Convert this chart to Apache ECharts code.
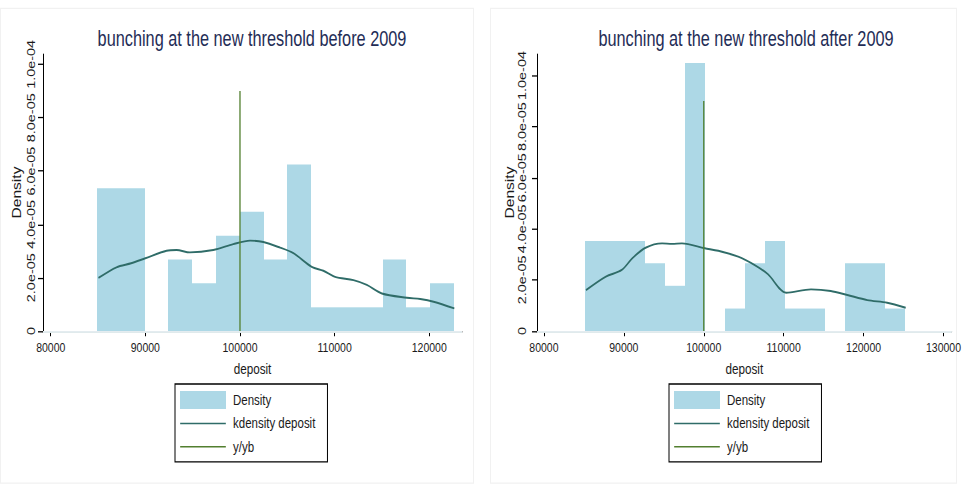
<!DOCTYPE html>
<html>
<head>
<meta charset="utf-8">
<title>bunching at the new threshold</title>
<script src="https://cdn.jsdelivr.net/npm/echarts@6/dist/echarts.min.js"></script>
<style>
  html, body { margin: 0; padding: 0; background: #ffffff; }
  #page { width: 964px; height: 487px; position: relative; }
  /* The graph is laid out on a 964x375 box and shown stretched to 487px tall */
  #chart { position: absolute; left: 0; top: 0; width: 964px; height: 375px;
           transform: scaleY(1.298667); transform-origin: 0 0; }
</style>
</head>
<body>
<div id="page"><div id="chart"></div></div>
<script>
// ---- data -------------------------------------------------------------
// Histogram bins (equal width) and bar densities, before 2009
const beforeBinStart = 84900;
const beforeBinWidth = 2515;
const beforeDensity = [5.36e-5, 5.36e-5, 0, 2.68e-5, 1.79e-5, 3.57e-5, 4.47e-5, 2.68e-5,
                       6.25e-5, 0.89e-5, 0.89e-5, 0.89e-5, 2.68e-5, 0.89e-5, 1.79e-5];
// Kernel density of deposit, before 2009
const beforeKdX = [85045, 86950, 88500, 90000, 92240, 93300, 94700, 97180, 99290, 101060,
                   102470, 104230, 105640, 107580, 108810, 110050, 111990, 113400, 114990,
                   117640, 119050, 120460, 122650];
const beforeKdY = [1.99e-5, 2.39e-5, 2.54e-5, 2.73e-5, 3.01e-5, 3.04e-5, 2.95e-5, 3.04e-5,
                   3.26e-5, 3.39e-5, 3.34e-5, 3.13e-5, 2.92e-5, 2.41e-5, 2.26e-5, 2.03e-5,
                   1.91e-5, 1.73e-5, 1.41e-5, 1.25e-5, 1.20e-5, 1.10e-5, 0.85e-5];

// Histogram bins and bar densities, after 2009
const afterBinStart = 85150;
const afterBinWidth = 2506;
const afterDensity = [3.52e-5, 3.52e-5, 3.52e-5, 2.65e-5, 1.77e-5, 10.49e-5, 0, 0.88e-5,
                      2.65e-5, 3.52e-5, 0.88e-5, 0.88e-5, 0, 2.65e-5, 2.65e-5, 0.88e-5];
// Kernel density of deposit, after 2009
const afterKdX = [85260, 87750, 89740, 91060, 92720, 94780, 96030, 97270, 100130, 101820,
                  104310, 106380, 108040, 110300, 113420, 115900, 117970, 120460, 122950, 125270];
const afterKdY = [1.60e-5, 2.13e-5, 2.39e-5, 2.85e-5, 3.26e-5, 3.43e-5, 3.41e-5, 3.43e-5,
                  3.24e-5, 3.14e-5, 2.91e-5, 2.58e-5, 2.22e-5, 1.50e-5, 1.63e-5, 1.57e-5,
                  1.41e-5, 1.21e-5, 1.11e-5, 0.91e-5];

// Threshold line y/yb
const thresholdX = 100000;
const thresholdTop = 9e-5;

// Axis ticks and labels
const yTickValues = [0, 2e-5, 4e-5, 6e-5, 8e-5, 1e-4];
const yTickLabels = ['0', '2.0e-05', '4.0e-05', '6.0e-05', '8.0e-05', '1.0e-04'];
const beforeXTicks = [80000, 90000, 100000, 110000, 120000];
const afterXTicks = [80000, 90000, 100000, 110000, 120000, 130000];

const titles = ['bunching at the new threshold before 2009', 'bunching at the new threshold after 2009'];
const legendNames = ['Density', 'kdensity deposit', 'y/yb'];

// ---- styling ----------------------------------------------------------
const FONT = "'Liberation Sans', Arial, Helvetica, sans-serif";
const BAR = '#add8e6';
const KD = '#2f6c68';
const YYB = '#527f2f';
const GRID = '#e4edf0';
const TEXT = '#1a1a1a';

const chart = echarts.init(document.getElementById('chart'), null, { renderer: 'svg' });

function histogram(values, start, width, idx) {
  return {
    type: 'custom', name: legendNames[0], xAxisIndex: idx, yAxisIndex: idx, z: 2,
    silent: true,
    itemStyle: { color: BAR },
    encode: { x: [0, 1], y: 2 },
    data: values.map((v, i) => [start + i * width, start + (i + 1) * width, v]),
    renderItem: function (params, api) {
      const top = api.coord([api.value(0), api.value(2)]);
      const base = api.coord([api.value(1), 0]);
      const x0 = Math.round(top[0]);
      const x1 = Math.round(base[0]);
      return {
        type: 'rect',
        shape: { x: x0, y: top[1], width: x1 - x0, height: base[1] - top[1] },
        style: { fill: BAR }
      };
    }
  };
}

function kdensity(xs, ys, idx) {
  return {
    type: 'line', name: legendNames[1], xAxisIndex: idx, yAxisIndex: idx, z: 3,
    silent: true, symbol: 'none', smooth: 0.3,
    itemStyle: { color: KD },
    lineStyle: { color: KD, width: 1.5 },
    data: xs.map((x, i) => [x, ys[i]]),
    markLine: {
      silent: true, symbol: 'none', z: 1, animation: false,
      label: { show: false },
      lineStyle: { color: GRID, width: 1, type: 'solid' },
      data: yTickValues.slice(1).map(v => ({ yAxis: v }))
    }
  };
}

function threshold(idx) {
  return {
    type: 'line', name: legendNames[2], xAxisIndex: idx, yAxisIndex: idx, z: 4,
    silent: true, symbol: 'none',
    itemStyle: { color: YYB },
    lineStyle: { color: YYB, width: 1.3 },
    data: [[thresholdX, 0], [thresholdX, thresholdTop]]
  };
}

const lineIcon = 'path://M0,0L0,0M46,14L46,14M0,6.4H46V7.6H0Z';

function legend(left, idx) {
  return {
    left: left, top: 295.7, orient: 'vertical',
    itemWidth: 46, itemHeight: 13.9, itemGap: 4.1,
    padding: [5.4, 12, 4.6, 5],
    borderColor: '#000', borderWidth: 1,
    selectedMode: false,
    textStyle: { fontFamily: FONT, fontSize: 11.5, color: TEXT, padding: [0, 0, 0, 2] },
    data: [
      { name: legendNames[0], icon: 'rect', itemStyle: { color: BAR, borderWidth: 0 } },
      { name: legendNames[1], icon: lineIcon, itemStyle: { color: KD, borderWidth: 0 } },
      { name: legendNames[2], icon: lineIcon, itemStyle: { color: YYB, borderWidth: 0 } }
    ]
  };
}

function xAxis(idx, min, max, ticks) {
  return {
    type: 'value', gridIndex: idx, min: min, max: max,
    name: 'deposit', nameLocation: 'middle', nameGap: 19.5,
    nameTextStyle: { fontFamily: FONT, fontSize: 11.7, color: TEXT },
    axisLine: { show: true, onZero: false, lineStyle: { color: '#000', width: 1 } },
    axisTick: { show: true, length: 4, customValues: ticks, lineStyle: { color: '#000' } },
    axisLabel: { customValues: ticks, margin: 7, fontFamily: FONT, fontSize: 10.5, color: TEXT,
                 hideOverlap: false, showMinLabel: true, showMaxLabel: true,
                 formatter: v => String(v) },
    splitLine: { show: false }
  };
}

function yAxis(idx, max, labelMargin) {
  return {
    type: 'value', gridIndex: idx, min: 0, max: max,
    name: 'Density', nameLocation: 'middle', nameGap: 20,
    nameTextStyle: { fontFamily: FONT, fontSize: 12, color: TEXT },
    axisLine: { show: true, lineStyle: { color: '#000', width: 1 } },
    axisTick: { show: true, length: 5, customValues: yTickValues, lineStyle: { color: '#000' } },
    axisLabel: {
      customValues: yTickValues, rotate: 90, margin: labelMargin,
      hideOverlap: false, showMinLabel: true, showMaxLabel: true,
      fontFamily: FONT, fontSize: 11.1, color: TEXT,
      formatter: v => {
        const i = yTickValues.findIndex(t => Math.abs(t - v) < 1e-9);
        return i >= 0 ? yTickLabels[i] : '';
      }
    },
    splitLine: { show: false }
  };
}

const titleStyle = { fontFamily: FONT, fontSize: 16.3, fontWeight: 'normal', color: '#1f2d56' };

const option = {
  animation: false,
  backgroundColor: '#ffffff',
  title: [
    { text: titles[0], left: 247, top: 16.5, textAlign: 'center', textStyle: titleStyle },
    { text: titles[1], left: 741, top: 16.5, textAlign: 'center', textStyle: titleStyle }
  ],
  graphic: [
    { type: 'rect', silent: true, z: -10, shape: { x: 0.5, y: 6.5, width: 473, height: 365.5 },
      style: { fill: 'none', stroke: '#f1f1f1', lineWidth: 1 } },
    { type: 'rect', silent: true, z: -10, shape: { x: 490.5, y: 6.5, width: 466, height: 365.5 },
      style: { fill: 'none', stroke: '#f1f1f1', lineWidth: 1 } }
  ],
  legend: [legend(175, 0), legend(669, 1)],
  grid: [
    { left: 43, top: 41.6, width: 419, height: 213.3, containLabel: false },
    { left: 537, top: 41.6, width: 418, height: 213.3, containLabel: false }
  ],
  xAxis: [xAxis(0, 79185, 123460, beforeXTicks), xAxis(1, 79130, 131020, afterXTicks)],
  yAxis: [yAxis(0, 1.039e-4, 6), yAxis(1, 1.084e-4, 9)],
  series: [
    histogram(beforeDensity, beforeBinStart, beforeBinWidth, 0),
    kdensity(beforeKdX, beforeKdY, 0),
    threshold(0),
    histogram(afterDensity, afterBinStart, afterBinWidth, 1),
    kdensity(afterKdX, afterKdY, 1),
    threshold(1)
  ]
};

chart.setOption(option);
</script>
</body>
</html>
